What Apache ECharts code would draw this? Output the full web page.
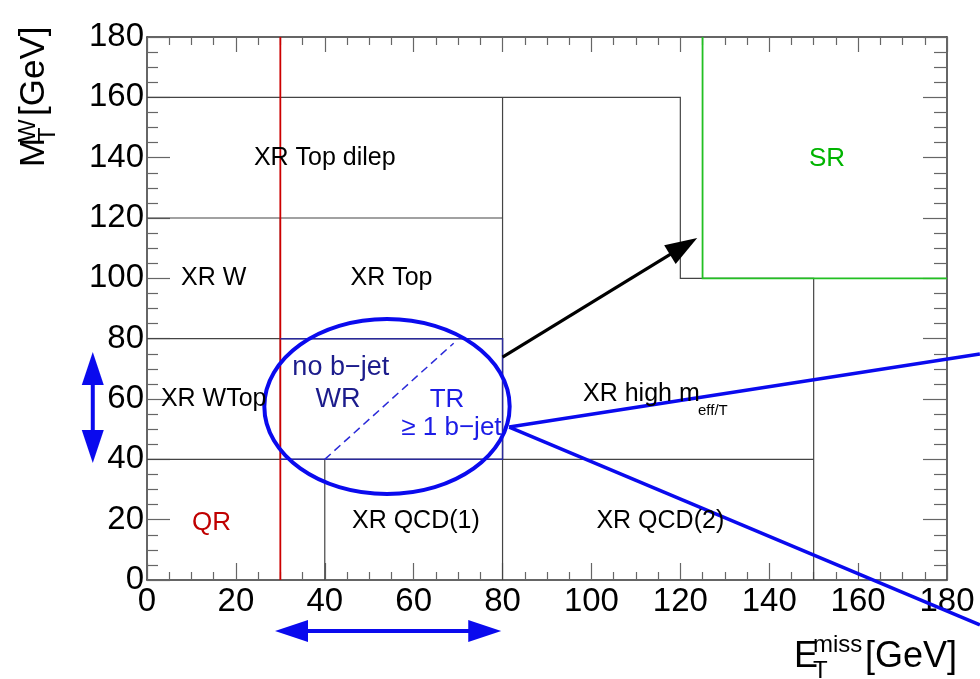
<!DOCTYPE html>
<html>
<head>
<meta charset="utf-8">
<script src="https://cdn.jsdelivr.net/npm/echarts@6/dist/echarts.min.js"></script>
<style>
  html, body { margin: 0; padding: 0; background: #fff; }
  #main { width: 980px; height: 679px; }
</style>
</head>
<body>
<div id="main"></div>
<script type="text/javascript">
  // region boundaries in (E_T^miss, M_T^W), GeV
  var blackLines = [
    [[0, 160], [120, 160], [120, 100], [150, 100], [150, 0]],
    [[0, 120], [80, 120]],
    [[0, 80], [80, 80]],
    [[0, 40], [150, 40]],
    [[80, 0], [80, 160]],
    [[40, 0], [40, 40]],
    [[30, 40], [30, 120]]
  ];
  var redLines = [[[30, 0], [30, 180]]];
  var greenLines = [[[125, 180], [125, 100], [180, 100]]];
  var boxLines = [[[30, 80], [80, 80], [80, 40], [30, 40]]];
  var dashLines = [[[40, 40], [69, 78.5]]];

  // ellipse: centre x, centre y, radius x, radius y
  var ellipses = [[54, 57.5, 27.6, 29]];

  // arrows / lines: x0, y0, x1, y1
  var pointer = [[80, 73.9, 123.8, 113.4]];
  var ranges = [[-12.2, 38.8, -12.2, 75.6], [28.8, -16.9, 79.7, -16.9]];
  var fan = [[81.5, 50.7, 187.4, 74.9], [81.5, 50.7, 187.4, -14.9]];

  // region labels
  var labelText = ['XR Top dilep', 'XR W', 'XR Top', 'XR WTop', 'QR', 'XR QCD(1)', 'XR QCD(2)', 'SR',
                   'no b\u2212jet', 'WR', 'TR', '\u2265 1 b\u2212jet'];
  var labelX = [40, 15, 55, 15, 14.5, 60.5, 115.5, 153, 43.6, 43, 67.5, 68.5];
  var labelY = [140, 100, 100, 60, 19, 19.5, 19.5, 139.5, 70.3, 59.8, 59.8, 50.4];
  var labelKind = ['xr', 'xr', 'xr', 'xr', 'qr', 'xr', 'xr', 'sr', 'wr', 'wr', 'tr', 'tr'];
  var highLabel = [[98.1, 61.5]];

  var FONT = '"Liberation Sans", Arial, Helvetica, sans-serif';
  var kindStyle = {
    xr: { color: '#000', size: 25 },
    qr: { color: '#c00000', size: 26 },
    sr: { color: '#00b400', size: 26 },
    wr: { color: '#1c1c8c', size: 27 },
    tr: { color: '#1c1ce6', size: 26 }
  };

  function toSegments(arr) {
    return arr.map(function (c) { return { coords: c }; });
  }

  function frameAxis(pos, major, minor, labels) {
    return {
      type: 'value', min: 0, max: 180, interval: 20, position: pos,
      axisLine: { show: true, onZero: false, lineStyle: { color: '#333', width: 1.5 } },
      axisTick: { show: true, inside: true, length: major, lineStyle: { color: '#666', width: 1.2 } },
      minorTick: { show: true, splitNumber: 4, length: minor, lineStyle: { color: '#666', width: 1.2 } },
      axisLabel: {
        show: labels, color: '#000', fontSize: 33, fontFamily: FONT,
        margin: (pos === 'bottom') ? 5 : 3, showMinLabel: true, showMaxLabel: true
      },
      splitLine: { show: false },
      minorSplitLine: { show: false }
    };
  }

  function arrowShapes(p0, p1, both, color, width, headLen, headW) {
    var dx = p1[0] - p0[0], dy = p1[1] - p0[1];
    var len = Math.sqrt(dx * dx + dy * dy);
    var ux = dx / len, uy = dy / len, nx = -uy, ny = ux;
    var a = both ? [p0[0] + ux * headLen * 0.9, p0[1] + uy * headLen * 0.9] : p0;
    var b = [p1[0] - ux * headLen * 0.9, p1[1] - uy * headLen * 0.9];
    var out = [{
      type: 'line', shape: { x1: a[0], y1: a[1], x2: b[0], y2: b[1] },
      style: { stroke: color, lineWidth: width }
    }];
    function head(tip, sx, sy) {
      var bx = tip[0] - sx * headLen, by = tip[1] - sy * headLen;
      return {
        type: 'polygon',
        shape: { points: [tip, [bx + nx * headW / 2, by + ny * headW / 2], [bx - nx * headW / 2, by - ny * headW / 2]] },
        style: { fill: color }
      };
    }
    out.push(head(p1, ux, uy));
    if (both) out.push(head(p0, -ux, -uy));
    return out;
  }

  var option = {
    animation: false,
    grid: { left: 147, right: 33, top: 37, bottom: 99, outerBoundsMode: 'none' },
    xAxis: [frameAxis('bottom', 17, 8, true), frameAxis('top', 15, 8, false)],
    yAxis: [frameAxis('left', 23, 11, true), frameAxis('right', 24, 13, false)],
    graphic: [
      {
        type: 'group', x: 45, y: 167, rotation: Math.PI / 2, silent: true,
        children: [
          { type: 'text', x: 0, y: -11, style: { text: 'M', font: '35px ' + FONT, fill: '#000', textAlign: 'left', textVerticalAlign: 'middle' } },
          { type: 'text', x: 25, y: -17, style: { text: 'W', font: '24px ' + FONT, fill: '#000', textAlign: 'left', textVerticalAlign: 'middle' } },
          { type: 'text', x: 25, y: 3, style: { text: 'T', font: '24px ' + FONT, fill: '#000', textAlign: 'left', textVerticalAlign: 'middle' } },
          { type: 'text', x: 51, y: -11, style: { text: '[GeV]', font: '35px ' + FONT, fill: '#000', textAlign: 'left', textVerticalAlign: 'middle' } }
        ]
      },
      { type: 'text', x: 794, y: 657, style: { text: 'E', font: '36px ' + FONT, fill: '#000', textAlign: 'left', textVerticalAlign: 'middle' } },
      { type: 'text', x: 813, y: 645, style: { text: 'miss', font: '24px ' + FONT, fill: '#000', textAlign: 'left', textVerticalAlign: 'middle' } },
      { type: 'text', x: 813, y: 671, style: { text: 'T', font: '24px ' + FONT, fill: '#000', textAlign: 'left', textVerticalAlign: 'middle' } },
      { type: 'text', x: 865, y: 657, style: { text: '[GeV]', font: '36px ' + FONT, fill: '#000', textAlign: 'left', textVerticalAlign: 'middle' } }
    ],
    series: [
      {
        name: 'regions', type: 'lines', coordinateSystem: 'cartesian2d', polyline: true,
        data: toSegments(blackLines), lineStyle: { color: '#444', width: 1.2, opacity: 1 }, z: 2
      },
      {
        name: 'qr', type: 'lines', coordinateSystem: 'cartesian2d', polyline: true,
        data: toSegments(redLines), lineStyle: { color: '#cc0000', width: 1.8, opacity: 1 }, z: 3
      },
      {
        name: 'sr', type: 'lines', coordinateSystem: 'cartesian2d', polyline: true,
        data: toSegments(greenLines), lineStyle: { color: '#22c022', width: 1.8, opacity: 1 }, z: 3
      },
      {
        name: 'wrtr', type: 'lines', coordinateSystem: 'cartesian2d', polyline: true,
        data: toSegments(boxLines), lineStyle: { color: '#2a2a9a', width: 1.5, opacity: 1 }, z: 3
      },
      {
        name: 'split', type: 'lines', coordinateSystem: 'cartesian2d', polyline: true,
        data: toSegments(dashLines), lineStyle: { color: '#2a2ad8', width: 1.5, type: [8, 5], opacity: 1 }, z: 3
      },
      {
        name: 'ellipse', type: 'custom', data: ellipses, z: 5,
        renderItem: function (params, api) {
          var c = api.coord([api.value(0), api.value(1)]);
          var s = api.size([api.value(2), api.value(3)]);
          return {
            type: 'ellipse', shape: { cx: c[0], cy: c[1], rx: s[0], ry: s[1] },
            style: { fill: 'none', stroke: '#0a0aee', lineWidth: 4 }
          };
        }
      },
      {
        name: 'fan', type: 'custom', data: fan, z: 5,
        renderItem: function (params, api) {
          var a = api.coord([api.value(0), api.value(1)]);
          var b = api.coord([api.value(2), api.value(3)]);
          return {
            type: 'line', shape: { x1: a[0], y1: a[1], x2: b[0], y2: b[1] },
            style: { stroke: '#0a0aee', lineWidth: 3.5 }
          };
        }
      },
      {
        name: 'pointer', type: 'custom', data: pointer, z: 5,
        renderItem: function (params, api) {
          var a = api.coord([api.value(0), api.value(1)]);
          var b = api.coord([api.value(2), api.value(3)]);
          return { type: 'group', children: arrowShapes(a, b, false, '#000', 3.2, 32, 22) };
        }
      },
      {
        name: 'ranges', type: 'custom', data: ranges, z: 5,
        renderItem: function (params, api) {
          var a = api.coord([api.value(0), api.value(1)]);
          var b = api.coord([api.value(2), api.value(3)]);
          return { type: 'group', children: arrowShapes(a, b, true, '#0a0aee', 4, 33, 22) };
        }
      },
      {
        name: 'labels', type: 'custom', z: 6,
        data: labelX.map(function (x, i) { return [x, labelY[i], i]; }),
        renderItem: function (params, api) {
          var i = api.value(2);
          var p = api.coord([api.value(0), api.value(1)]);
          var st = kindStyle[labelKind[i]];
          return {
            type: 'text', x: p[0], y: p[1],
            style: {
              text: labelText[i], font: st.size + 'px ' + FONT, fill: st.color,
              textAlign: 'center', textVerticalAlign: 'middle'
            }
          };
        }
      },
      {
        name: 'highLabel', type: 'custom', z: 6, data: highLabel,
        renderItem: function (params, api) {
          var p = api.coord([api.value(0), api.value(1)]);
          return {
            type: 'group', x: p[0], y: p[1],
            children: [
              { type: 'text', x: 0, y: 0, style: { text: 'XR high m', font: '25px ' + FONT, fill: '#000', textAlign: 'left', textVerticalAlign: 'middle' } },
              { type: 'text', x: 115, y: 16, style: { text: 'eff/T', font: '15px ' + FONT, fill: '#000', textAlign: 'left', textVerticalAlign: 'middle' } }
            ]
          };
        }
      }
    ]
  };

  var myChart = echarts.init(document.getElementById('main'));
  myChart.setOption(option);
</script>
</body>
</html>
